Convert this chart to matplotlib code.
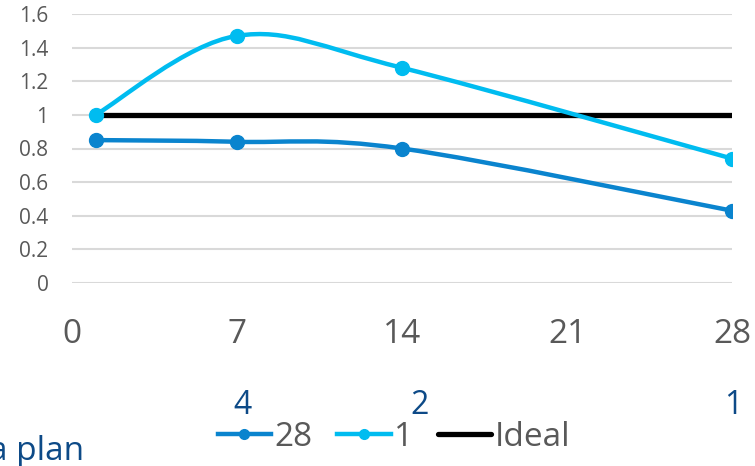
import numpy as np
import matplotlib
matplotlib.use('Agg')
import matplotlib.pyplot as plt
from matplotlib.path import Path
from matplotlib.patches import PathPatch
from matplotlib.lines import Line2D

plt.rcParams['font.family'] = ['Open Sans', 'DejaVu Sans']

# data
days = [1, 7, 14, 28]
series_28 = [0.85, 0.84, 0.80, 0.43]
series_1 = [1.00, 1.47, 1.28, 0.74]
ideal_x = [1, 28]
ideal_y = [1.0, 1.0]
x_ticks = [0, 7, 14, 21, 28]
y_ticks = [0, 0.2, 0.4, 0.6, 0.8, 1, 1.2, 1.4, 1.6]
y_tick_labels = ['0', '0.2', '0.4', '0.6', '0.8', '1', '1.2', '1.4', '1.6']
stray_labels = ['4', '2', '1']
stray_x = [242, 420, 733]

c28 = '#0A84CE'
c1 = '#00BCF0'
grey = '#595959'
navy = '#0D4A87'


def smooth_path(x, y):
    # excel style smoothing: cubic bezier with catmull-rom control points
    pts = np.column_stack([x, y]).astype(float)
    n = len(pts)
    verts = [pts[0]]
    codes = [Path.MOVETO]
    for i in range(n - 1):
        p0 = pts[max(i - 1, 0)]
        p1 = pts[i]
        p2 = pts[i + 1]
        p3 = pts[min(i + 2, n - 1)]
        verts += [p1 + (p2 - p0) / 6.0, p2 - (p3 - p1) / 6.0, p2]
        codes += [Path.CURVE4] * 3
    return Path(verts, codes)


fig = plt.figure(figsize=(7.55, 4.66), dpi=100)
ax = fig.add_axes([72 / 755, 1 - 283 / 466, 660 / 755, 269 / 466])

for yv in y_ticks:
    ax.axhline(yv, color='#D9D9D9', lw=1.5, zorder=0)

ax.plot(ideal_x, ideal_y, color='black', lw=3.8, solid_capstyle='round', zorder=2)

for xs, ys, col in [(days, series_28, c28), (days, series_1, c1)]:
    patch = PathPatch(smooth_path(xs, ys), fill=False, edgecolor=col, lw=3.2,
                      capstyle='round', zorder=3)
    ax.add_patch(patch)
    ax.plot(xs, ys, 'o', color=col, markersize=10, zorder=4)

ax.set_xlim(0, 28)
ax.set_ylim(0, 1.6)
ax.set_xticks(x_ticks)
ax.set_yticks(y_ticks)
ax.set_yticklabels(y_tick_labels)
for s in ax.spines.values():
    s.set_visible(False)
ax.tick_params(axis='x', length=0, pad=25, labelsize=24, labelcolor=grey)
ax.tick_params(axis='y', length=0, pad=17, labelsize=15, labelcolor=grey)

handles = [Line2D([], [], color=c28, lw=3.2, marker='o', markersize=7),
           Line2D([], [], color=c1, lw=3.2, marker='o', markersize=7),
           Line2D([], [], color='black', lw=3.8, solid_capstyle='round')]
fig.legend(handles, ['28', '1', 'Ideal'], loc='center', bbox_to_anchor=(394 / 755, 1 - 437 / 466),
           ncol=3, frameon=False, fontsize=24, labelcolor=grey, handlelength=1.6,
           handletextpad=0.1, columnspacing=0.75, borderpad=0, borderaxespad=0)

for lab, px in zip(stray_labels, stray_x):
    fig.text(px / 755, 1 - 406 / 466, lab, ha='center', va='center', fontsize=23, color=navy)
fig.text(-11 / 755, 1 - 460 / 466, 'a plan', ha='left', va='baseline', fontsize=24, color=navy)

fig.savefig('out.png', dpi=100)
